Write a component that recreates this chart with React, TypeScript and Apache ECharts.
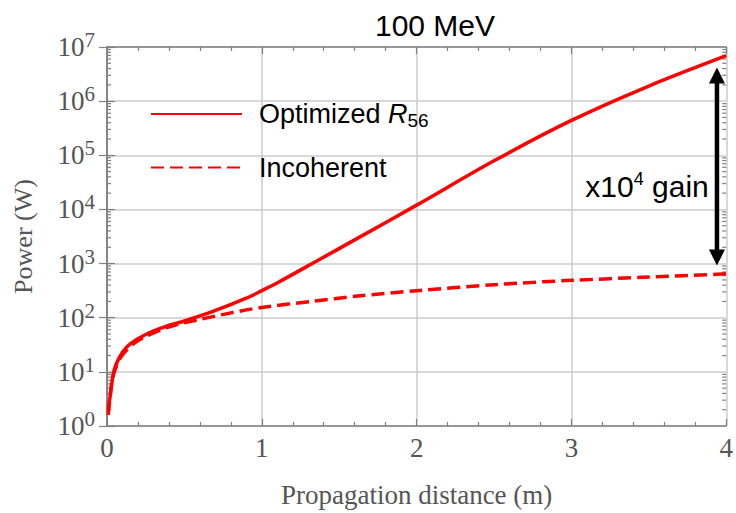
import { useEffect, useRef } from "react";
import * as echarts from "echarts";

// Propagation distance (m) and radiated power (W) for the two cases
const optimizedDistance = [0.008, 0.02, 0.04, 0.06, 0.1, 0.15, 0.25, 0.38, 0.5, 0.68, 0.9, 1.0, 1.11, 1.32, 1.62, 2.0, 2.5, 3.0, 3.5, 4.0];
const optimizedPower = [2, 3.5, 9.1, 14, 23, 33, 49, 69, 87, 129, 229, 316, 457, 980, 2950, 12000, 79000, 440000, 1.9e6, 6.9e6];

const incoherentDistance = [0.008, 0.03, 0.05, 0.094, 0.17, 0.25, 0.38, 0.5, 0.6, 0.8, 1.0, 1.32, 1.62, 2.0, 2.5, 3.0, 3.5, 4.0];
const incoherentPower = [1.6, 6, 10.5, 19.6, 33, 45, 65, 81, 93, 123, 155, 200, 251, 316, 407, 490, 562, 646];

// Axis ranges
const xMin = 0;
const xMax = 4;
const yMin = 1;
const yMax = 1e7;
const decades = [1, 10, 100, 1e3, 1e4, 1e5, 1e6];
const minorMultipliers = [2, 3, 4, 5, 6, 7, 8, 9];

// Gain annotation: arrow spans these power levels at this distance
const gainX = 3.94;
const gainTop = 4.2e6;
const gainBottom = 920;

const seriesNames = ["Optimized R56", "Incoherent"];

const RED = "#ff0000";
const FRAME = "#808080";
const GRID = "#cccccc";
const LABEL = "#555555";
const SERIF = "'Liberation Serif', 'Times New Roman', serif";
const SANS = "'Liberation Sans', Arial, sans-serif";

export default function App() {
  const ref = useRef<HTMLDivElement>(null);

  useEffect(() => {
    if (!ref.current) return;
    const chart = echarts.init(ref.current, null, { renderer: "svg" });

    const minorTickValues = decades.flatMap((d) => minorMultipliers.map((k) => k * d));

    const xAxisCommon = {
      type: "value" as const,
      min: xMin,
      max: xMax,
      interval: 1,
      axisLine: { show: true, lineStyle: { color: FRAME, width: 1.5 } },
      axisTick: { show: true, inside: true, length: 7, lineStyle: { color: FRAME, width: 1.2 } },
      minorTick: { show: true, splitNumber: 5, length: 4, lineStyle: { color: FRAME, width: 1.2 } },
    };

    const yAxisCommon = {
      type: "log" as const,
      logBase: 10,
      min: yMin,
      max: yMax,
      splitNumber: 7,
      axisLine: { show: true, lineStyle: { color: FRAME, width: 1.5 } },
      axisTick: { show: true, inside: true, length: 8, lineStyle: { color: FRAME, width: 1.2 } },
    };

    chart.setOption({
      animation: false,
      backgroundColor: "#ffffff",
      grid: { left: 107, right: 4, top: 47, bottom: 80, containLabel: false },
      legend: {
        data: seriesNames,
        orient: "vertical",
        left: 150,
        top: 99,
        padding: 0,
        itemWidth: 91,
        itemHeight: 14,
        itemGap: 23,
        selectedMode: false,
        itemStyle: { color: "transparent", borderWidth: 0, opacity: 0 },
        formatter: (name: string) => (name === "Optimized R56" ? "Optimized {i|R}{sub|56}" : name),
        textStyle: {
          fontFamily: SANS,
          fontSize: 27,
          color: "#000",
          lineHeight: 30,
          padding: [0, 0, 0, 12],
          rich: {
            i: { fontFamily: SANS, fontSize: 27, fontStyle: "italic", color: "#000" },
            sub: { fontFamily: SANS, fontSize: 19, color: "#000", padding: [12, 0, 0, 0] },
          },
        },
      },
      xAxis: [
        {
          ...xAxisCommon,
          position: "bottom",
          name: "Propagation distance (m)",
          nameLocation: "middle",
          nameGap: 55,
          nameTextStyle: { fontFamily: SERIF, fontSize: 27, color: LABEL },
          axisLabel: { fontFamily: SERIF, fontSize: 27, color: LABEL, margin: 8 },
          splitLine: { show: true, lineStyle: { color: GRID, width: 1.5 } },
        },
        {
          ...xAxisCommon,
          position: "top",
          axisLabel: { show: false },
          splitLine: { show: false },
        },
      ],
      yAxis: [
        {
          ...yAxisCommon,
          position: "left",
          name: "Power (W)",
          nameLocation: "middle",
          nameGap: 71,
          nameTextStyle: { fontFamily: SERIF, fontSize: 26, color: LABEL },
          splitLine: { show: true, lineStyle: { color: GRID, width: 1.5 } },
          axisLabel: {
            margin: 12,
            formatter: (v: number) => `{b|10}{s|${Math.round(Math.log10(v))}}`,
            rich: {
              b: { fontFamily: SERIF, fontSize: 27, color: LABEL },
              s: { fontFamily: SERIF, fontSize: 21, color: LABEL, padding: [0, 0, 14, 0] },
            },
          },
        },
        {
          ...yAxisCommon,
          position: "right",
          axisLabel: { show: false },
          splitLine: { show: false },
        },
      ],
      series: [
        {
          name: "Optimized R56",
          type: "line",
          data: optimizedDistance.map((x, i) => [x, optimizedPower[i]]),
          showSymbol: false,
          symbol: "none",
          smooth: 0.3,
          lineStyle: { color: RED, width: 3.5 },
          itemStyle: { color: RED },
          z: 5,
        },
        {
          name: "Incoherent",
          type: "line",
          data: incoherentDistance.map((x, i) => [x, incoherentPower[i]]),
          showSymbol: false,
          symbol: "none",
          smooth: 0.3,
          lineStyle: { color: RED, width: 3.5, type: [13, 6] },
          itemStyle: { color: RED },
          z: 4,
        },
        {
          // logarithmic minor ticks (2..9 per decade) on the left and right frame
          name: "minorTicks",
          type: "custom",
          silent: true,
          clip: false,
          z: 3,
          data: minorTickValues.map((v) => [xMin, v]),
          encode: { x: 0, y: 1 },
          renderItem: (_params: any, api: any) => {
            const v = api.value(1);
            const l = api.coord([xMin, v]);
            const r = api.coord([xMax, v]);
            const style = { stroke: FRAME, lineWidth: 1.2 };
            return {
              type: "group",
              children: [
                { type: "line", shape: { x1: l[0], y1: l[1], x2: l[0] + 4, y2: l[1] }, style },
                { type: "line", shape: { x1: r[0], y1: r[1], x2: r[0] - 4, y2: r[1] }, style },
              ],
            };
          },
        },
      ],
    });

    const pTop = chart.convertToPixel({ gridIndex: 0 }, [gainX, gainTop]) as number[];
    const pBot = chart.convertToPixel({ gridIndex: 0 }, [gainX, gainBottom]) as number[];
    const ax = pTop[0];
    const headW = 8;
    const headH = 16;

    chart.setOption({
      graphic: [
        {
          type: "text",
          x: 435,
          y: 25,
          style: {
            text: "100 MeV",
            fontFamily: SANS,
            fontSize: 30,
            fill: "#000",
            textAlign: "center",
            textVerticalAlign: "middle",
          },
        },
        {
          type: "text",
          x: 647,
          y: 186,
          style: {
            text: "x10{s|4} gain",
            fontFamily: SANS,
            fontSize: 30,
            fill: "#000",
            textAlign: "center",
            textVerticalAlign: "middle",
            rich: {
              s: { fontFamily: SANS, fontSize: 18, fill: "#000", padding: [0, 0, 14, 0] },
            },
          },
        },
        {
          type: "line",
          shape: { x1: ax, y1: pTop[1] + headH - 2, x2: ax, y2: pBot[1] - headH + 2 },
          style: { stroke: "#000", lineWidth: 4.5 },
          z: 10,
        },
        {
          type: "polygon",
          shape: { points: [[ax, pTop[1]], [ax - headW, pTop[1] + headH], [ax + headW, pTop[1] + headH]] },
          style: { fill: "#000" },
          z: 10,
        },
        {
          type: "polygon",
          shape: { points: [[ax, pBot[1]], [ax - headW, pBot[1] - headH], [ax + headW, pBot[1] - headH]] },
          style: { fill: "#000" },
          z: 10,
        },
      ],
    });

    return () => chart.dispose();
  }, []);

  return (
    <div
      ref={ref}
      style={{ position: "absolute", left: 0, top: 0, width: 736, height: 513 }}
    />
  );
}
